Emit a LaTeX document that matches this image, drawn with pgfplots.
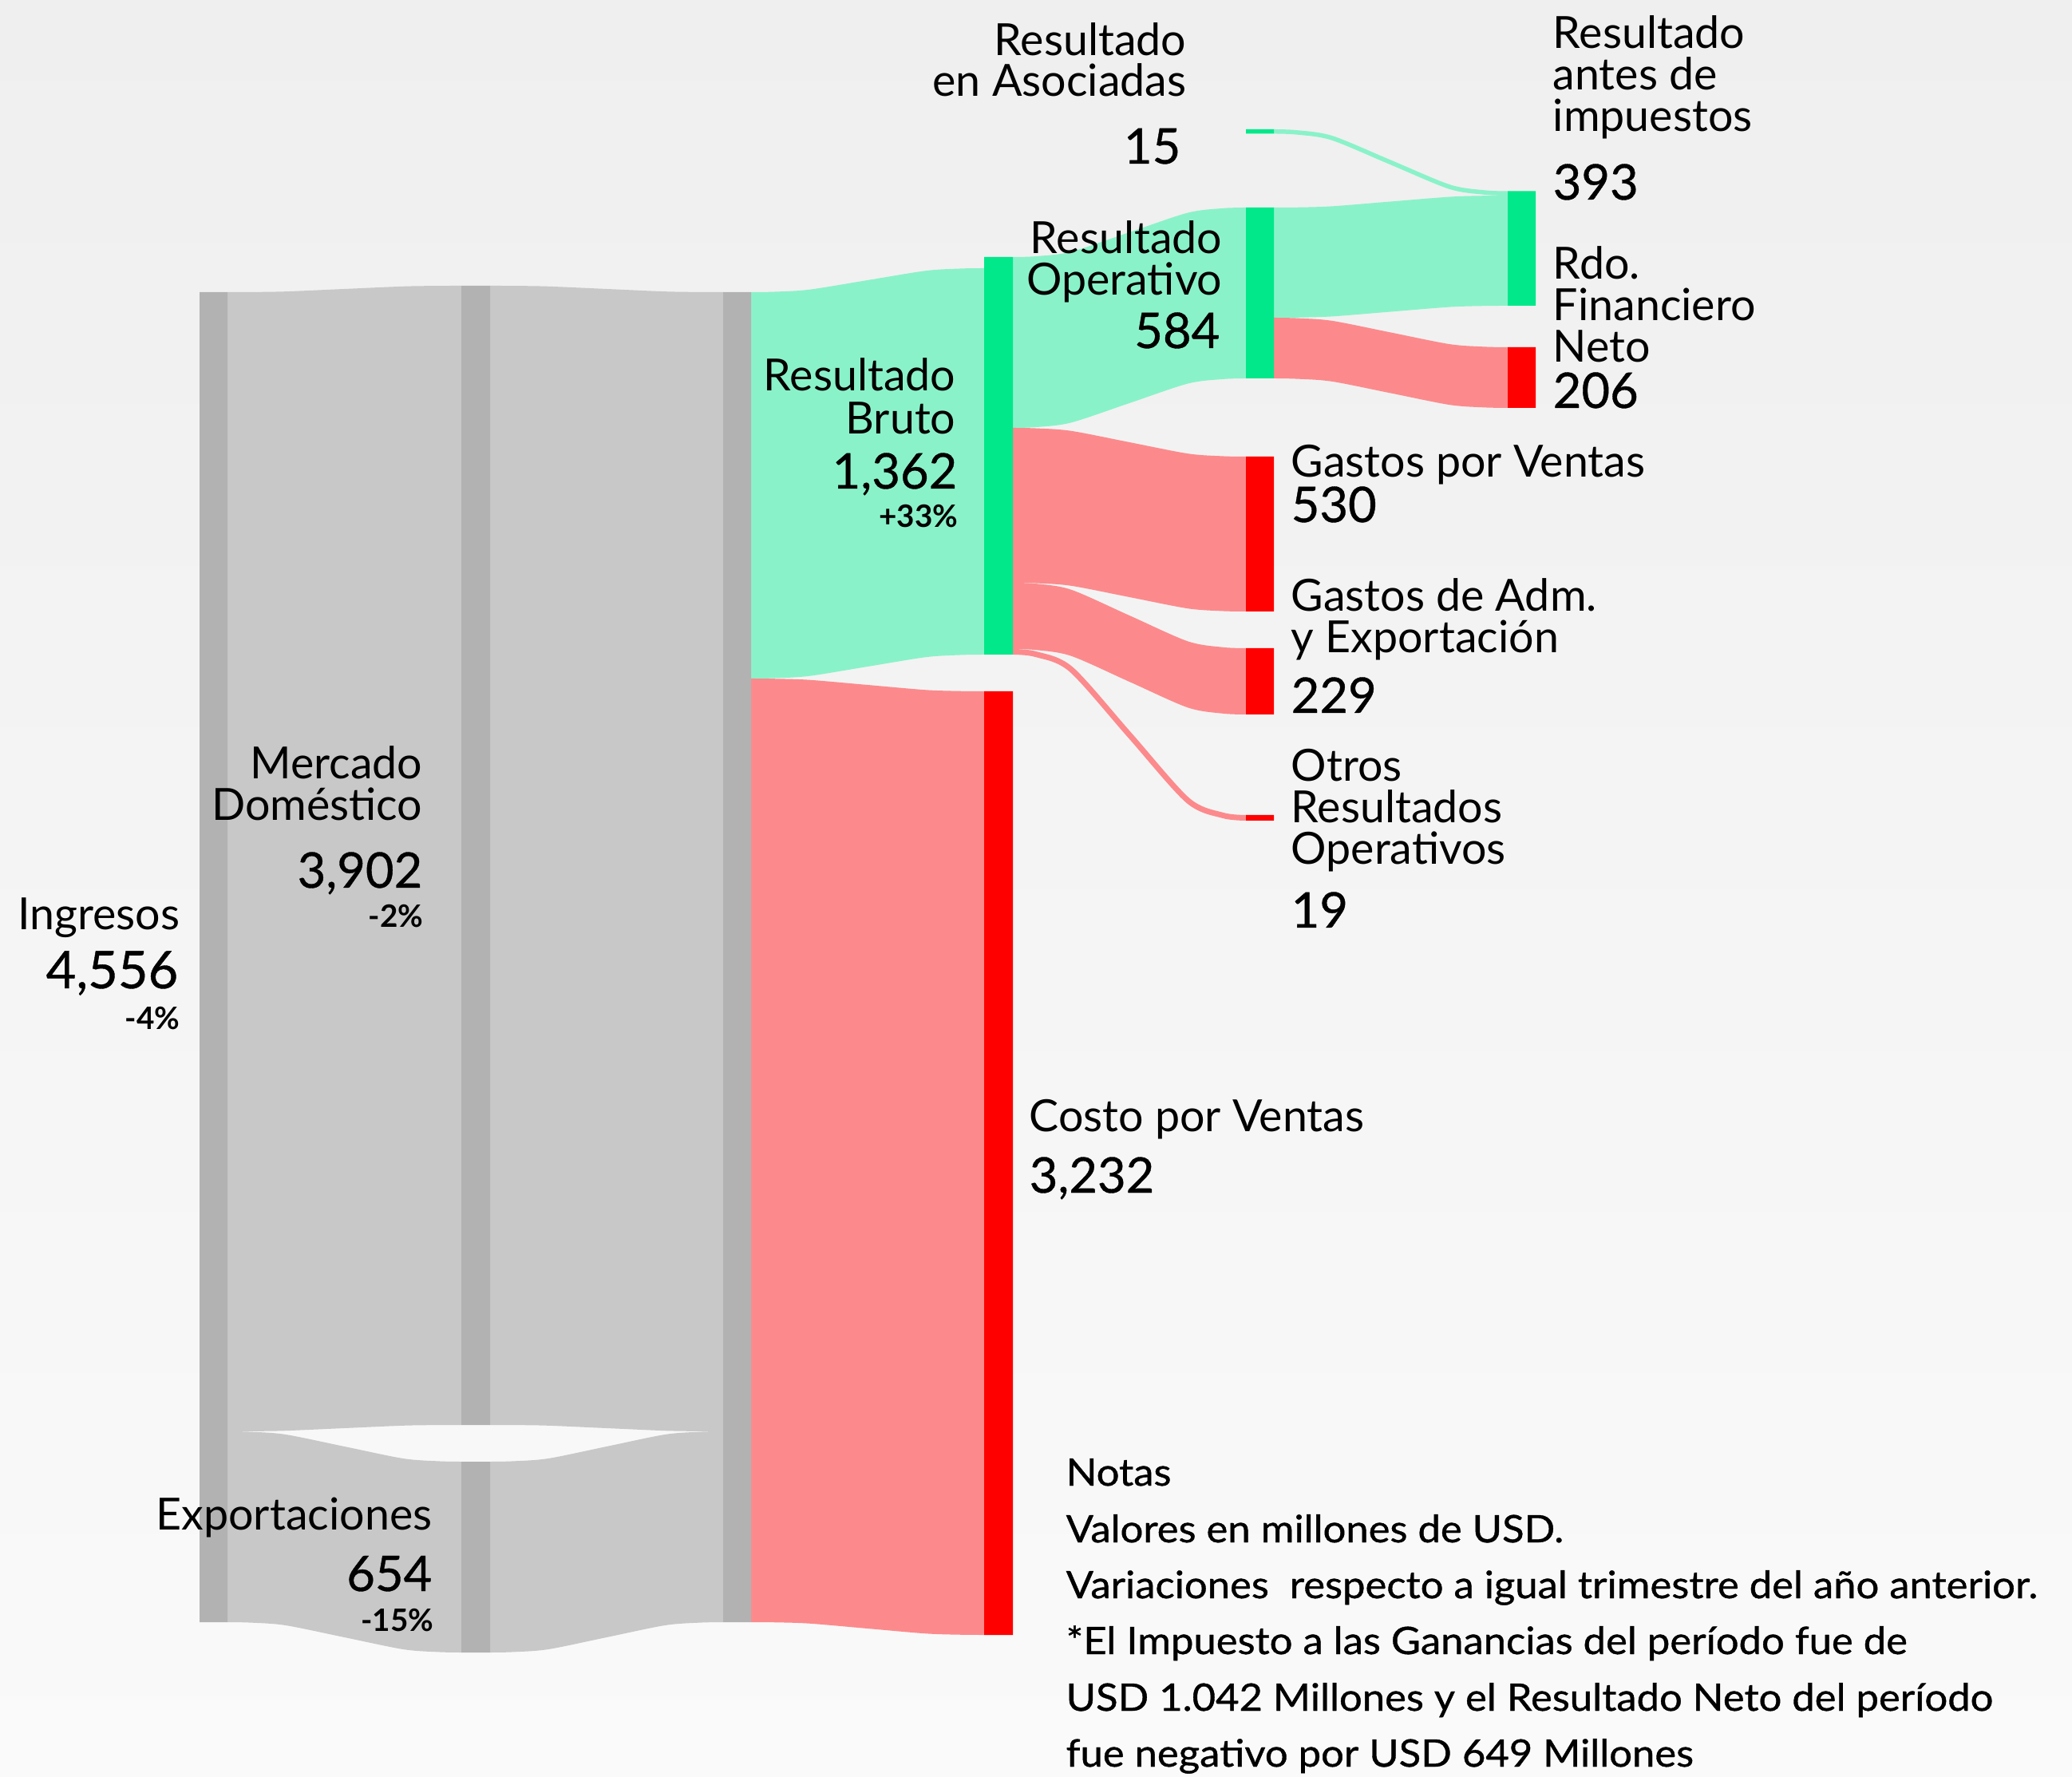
\documentclass[border=0pt]{standalone}
\usepackage{pgfplots}
\pgfplotsset{compat=1.18}
\usepgfplotslibrary{fillbetween}
\usepackage{fontspec}
\setmainfont{Lato}
\newfontfamily\medfont{Lato}[FakeBold=0.6]
\newfontfamily\notefont{Lato}[FakeBold=0.8, FakeStretch=1.07]
\definecolor{grayBar}{HTML}{B2B2B2}
\definecolor{grayFlow}{HTML}{C8C8C8}
\definecolor{greenBar}{HTML}{00E88A}
\definecolor{greenFlow}{HTML}{8AF2C9}
\definecolor{redBar}{HTML}{FF0000}
\definecolor{redFlow}{HTML}{FC8A8C}
\definecolor{bgTop}{HTML}{EFEFEF}
\definecolor{bgBot}{HTML}{FAFAFA}
\tikzset{
  lab/.style={font=\fontsize{15.8}{19}\selectfont, inner sep=0pt},
  num/.style={font=\medfont\fontsize{17.5}{20}\selectfont, inner sep=0pt},
  pct/.style={font=\bfseries\fontsize{11}{13}\selectfont, inner sep=0pt},
  note/.style={font=\notefont\fontsize{13.5}{16}\selectfont, inner sep=0pt, anchor=base west}
}
% flow: #1 name, #2 colour, #3 top edge, #4 bottom edge
\newcommand{\flow}[4]{%
  \addplot[draw=none, smooth, name path=#1t] coordinates {#3};
  \addplot[draw=none, smooth, name path=#1b] coordinates {#4};
  \addplot[fill=#2, draw=none] fill between[of=#1t and #1b];
}
% bar: #1 colour, #2 x0, #3 x1, #4 y0, #5 y1
\newcommand{\nodebar}[5]{%
  \addplot[fill=#1, draw=none] coordinates {(#2,#4) (#3,#4) (#3,#5) (#2,#5) (#2,#4)};
}
\begin{document}
\begin{tikzpicture}
\shade[top color=bgTop, bottom color=bgBot] (0,0) rectangle (25.96cm,22.25cm);
\begin{axis}[hide axis, scale only axis, width=25.96cm, height=22.25cm,
  at={(0,0)}, anchor=south west,
  xmin=0, xmax=2596, ymin=0, ymax=2225, y dir=reverse, clip=false,
  fill between/on layer=main]
% ---------- flows ----------
\flow{fa}{grayFlow}{(285,366) (314,365.9) (358,365.2) (431.5,362) (505,358.8) (549,358.1) (578,358)}
                   {(285,1793) (314,1792.9) (358,1792.2) (431.5,1789) (505,1785.8) (549,1785.1) (578,1785)}
\flow{fb}{grayFlow}{(285,1793) (314,1793.6) (358,1797) (431.5,1812) (505,1827) (549,1830.4) (578,1831)}
                   {(285,2032) (314,2032.6) (358,2036) (431.5,2051) (505,2066) (549,2069.4) (578,2070)}
\flow{fc}{grayFlow}{(614,358) (643,358.1) (687,358.8) (760,362) (833,365.2) (877,365.9) (906,366)}
                   {(614,1785) (643,1785.1) (687,1785.8) (760,1789) (833,1792.2) (877,1792.9) (906,1793)}
\flow{fd}{grayFlow}{(614,1831) (643,1830.4) (687,1827) (760,1812) (833,1797) (877,1793.6) (906,1793)}
                   {(614,2070) (643,2069.4) (687,2066) (760,2051) (833,2036) (877,2032.6) (906,2032)}
\flow{fe}{greenFlow}{(941,366) (970,365.55) (1014,362.8) (1087,351) (1160,339.2) (1204,336.45) (1233,336)}
                    {(941,850) (970,849.55) (1014,846.8) (1087,835) (1160,823.2) (1204,820.45) (1233,820)}
\flow{ff}{redFlow}{(941,850) (970,850.24) (1014,851.7) (1087,858) (1160,864.3) (1204,865.76) (1233,866)}
                  {(941,2032) (970,2032.24) (1014,2033.7) (1087,2040) (1160,2046.3) (1204,2047.76) (1233,2048)}
\flow{fg}{greenFlow}{(1269,322) (1298,321.07) (1342,315.4) (1415,291) (1488,266.6) (1532,260.93) (1561,260)}
                    {(1269,536) (1298,535.07) (1342,529.4) (1415,505) (1488,480.6) (1532,474.93) (1561,474)}
\flow{fh}{redFlow}{(1269,536) (1298,536.54) (1342,539.8) (1415,554) (1488,568.2) (1532,571.46) (1561,572)}
                  {(1269,730) (1298,730.54) (1342,733.8) (1415,748) (1488,762.2) (1532,765.46) (1561,766)}
\flow{fi}{redFlow}{(1269,730) (1298,731.2) (1342,738.7) (1415,771) (1488,803.3) (1532,810.8) (1561,812)}
                  {(1269,813) (1298,814.2) (1342,821.7) (1415,854) (1488,886.3) (1532,893.8) (1561,895)}
% thin flow: Otros Resultados Operativos (19)
\addplot[smooth, draw=redFlow, line width=0.07cm, line cap=butt]
  coordinates {(1269,816.5) (1298,819.6) (1342,838.5) (1415,920.5) (1488,1002.5) (1532,1021.4) (1561,1024.5)};
\flow{fk}{greenFlow}{(1596,260) (1625,259.8) (1669,258.4) (1742.5,252.5) (1816,246.6) (1860,245.2) (1889,245)}
                    {(1596,398) (1625,397.8) (1669,396.4) (1742.5,390.5) (1816,384.6) (1860,383.2) (1889,383)}
\flow{fl}{redFlow}{(1596,398) (1625,398.6) (1669,401.9) (1742.5,416.5) (1816,431.1) (1860,434.4) (1889,435)}
                  {(1596,474) (1625,474.6) (1669,477.9) (1742.5,492.5) (1816,507.1) (1860,510.4) (1889,511)}
% thin flow: Resultado en Asociadas (15)
\addplot[smooth, draw=greenFlow, line width=0.055cm, line cap=butt]
  coordinates {(1596,164.75) (1625,165.9) (1669,172.96) (1742.5,203.5) (1816,234.0) (1860,241.1) (1889,242.25)};
% ---------- node bars ----------
\nodebar{grayBar}{250}{285}{366}{2032}
\nodebar{grayBar}{578}{614}{358}{1785}
\nodebar{grayBar}{578}{614}{1831}{2070}
\nodebar{grayBar}{906}{941}{366}{2032}
\nodebar{greenBar}{1233}{1269}{322}{820}
\nodebar{redBar}{1233}{1269}{866}{2048}
\nodebar{greenBar}{1561}{1596}{260}{474}
\nodebar{greenBar}{1561}{1596}{162}{167.5}
\nodebar{redBar}{1561}{1596}{572}{766}
\nodebar{redBar}{1561}{1596}{812}{895}
\nodebar{redBar}{1561}{1596}{1021}{1028}
\nodebar{greenBar}{1889}{1924}{239.5}{383}
\nodebar{redBar}{1889}{1924}{435}{511}
% ---------- labels ----------
\node[lab, anchor=base east] at (226,1165) {Ingresos};
\node[num, anchor=base east, font=\medfont\fontsize{18.5}{21}\selectfont] at (224,1238) {4,556};
\node[pct, anchor=base east] at (226,1289) {-4\%};
\node[lab, anchor=base east] at (530,976) {Mercado};
\node[lab, anchor=base east] at (530,1028) {Doméstico};
\node[num, anchor=base east] at (530,1112) {3,902};
\node[pct, anchor=base east] at (531,1162) {-2\%};
\node[lab, anchor=base east] at (542,1916) {Exportaciones};
\node[num, anchor=base east] at (542,1993) {654};
\node[pct, anchor=base east] at (544,2043) {-15\%};
\node[lab, anchor=base east] at (1198,490) {Resultado};
\node[lab, anchor=base east] at (1198,544) {Bruto};
\node[num, anchor=base east] at (1200,612) {1,362};
\node[pct, anchor=base east] at (1201,661) {+33\%};
\node[lab, anchor=base west] at (1289,1417) {Costo por Ventas};
\node[num, anchor=base west] at (1289,1494) {3,232};
\node[lab, anchor=base east] at (1532,318) {Resultado};
\node[lab, anchor=base east] at (1532,370) {Operativo};
\node[num, anchor=base east] at (1529,436) {584};
\node[lab, anchor=base east] at (1487,70) {Resultado};
\node[lab, anchor=base east] at (1487,121) {en Asociadas};
\node[num, anchor=base east] at (1480,205) {15};
\node[lab, anchor=base west] at (1945,61) {Resultado};
\node[lab, anchor=base west] at (1945,112.5) {antes de};
\node[lab, anchor=base west] at (1945,165) {impuestos};
\node[num, anchor=base west] at (1945,250) {393};
\node[lab, anchor=base west] at (1945,350) {Rdo.};
\node[lab, anchor=base west] at (1945,402) {Financiero};
\node[lab, anchor=base west] at (1945,454) {Neto};
\node[num, anchor=base west] at (1945,511) {206};
\node[lab, anchor=base west] at (1617,598) {Gastos por Ventas};
\node[num, anchor=base west] at (1617,654) {530};
\node[lab, anchor=base west] at (1617,766) {Gastos de Adm.};
\node[lab, anchor=base west] at (1617,818) {y Exportación};
\node[num, anchor=base west] at (1617,893) {229};
\node[lab, anchor=base west] at (1617,979) {Otros};
\node[lab, anchor=base west] at (1617,1031) {Resultados};
\node[lab, anchor=base west] at (1617,1083) {Operativos};
\node[num, anchor=base west] at (1617,1162) {19};
% ---------- notes ----------
\node[note] at (1335,1861) {Notas};
\node[note] at (1335,1932) {Valores en millones de USD.};
\node[note] at (1335,2002) {Variaciones\ \ respecto a igual trimestre del año anterior.};
\node[note] at (1335,2072) {*El Impuesto a las Ganancias del período fue de};
\node[note] at (1335,2143) {USD 1.042 Millones y el Resultado Neto del período};
\node[note] at (1335,2213) {fue negativo por USD 649 Millones};
\end{axis}
\pgfresetboundingbox
\path (0,0) rectangle (25.96cm,22.25cm);
\end{tikzpicture}
\end{document}
